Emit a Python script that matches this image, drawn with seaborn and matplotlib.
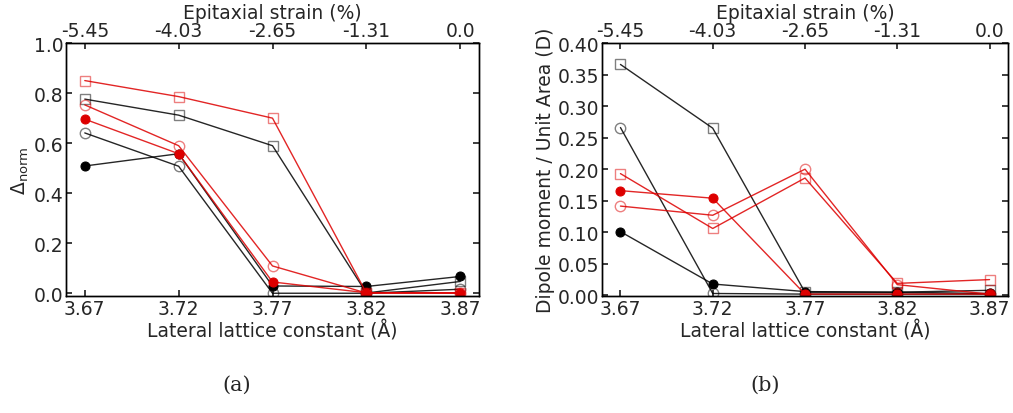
import numpy as np
import pandas as pd
import matplotlib
matplotlib.use("Agg")
import matplotlib.pyplot as plt
import seaborn as sns

lattice = [3.67, 3.72, 3.77, 3.82, 3.87]
strain_labels = ["-5.45", "-4.03", "-2.65", "-1.31", "0.0"]

# panel (a): Delta_norm
a_black_fill = [0.509, 0.558, 0.030, 0.028, 0.068]
a_black_sq = [0.776, 0.712, 0.590, 0.002, 0.048]
a_black_circ = [0.641, 0.508, 0.001, 0.001, 0.017]
a_red_sq = [0.850, 0.786, 0.700, 0.002, 0.001]
a_red_circ = [0.753, 0.590, 0.110, 0.002, 0.002]
a_red_fill = [0.696, 0.558, 0.046, 0.003, 0.003]

# panel (b): dipole moment per unit area
b_black_sq = [0.366, 0.265, 0.005, 0.005, 0.008]
b_black_circ = [0.266, 0.003, 0.002, 0.002, 0.002]
b_black_fill = [0.101, 0.018, 0.006, 0.005, 0.003]
b_red_sq = [0.193, 0.106, 0.186, 0.019, 0.025]
b_red_circ = [0.1415, 0.127, 0.200, 0.017, 0.002]
b_red_fill = [0.166, 0.154, 0.002, 0.002, 0.002]

RED = "#dd0000"

sns.set_theme(style="ticks", rc={
    "xtick.direction": "in", "ytick.direction": "in",
    "xtick.major.size": 4, "ytick.major.size": 4,
    "axes.linewidth": 1.0, "axes.edgecolor": "black",
})
plt.rcParams["font.family"] = ["DejaVu Sans"]
FS = 13.5

fig = plt.figure(figsize=(10.13, 4.14), dpi=100)
W, H = 1013, 414
ax1 = fig.add_axes([66 / W, (H - 297) / H, (479 - 66) / W, (297 - 44) / H])
ax2 = fig.add_axes([602 / W, (H - 297) / H, (1008 - 602) / W, (297 - 44) / H])


def draw(ax, y, color, kind):
    df = pd.DataFrame({"x": lattice, "y": y})
    line_c = matplotlib.colors.to_rgba(color, 0.85)
    if kind == "fill":
        sns.lineplot(data=df, x="x", y="y", ax=ax, color=line_c, lw=1.0,
                     marker="o", markersize=6.5, markerfacecolor=color,
                     markeredgecolor=color)
    else:
        m = "s" if kind == "sq" else "o"
        sns.lineplot(data=df, x="x", y="y", ax=ax, color=line_c, lw=1.0,
                     marker=m, markersize=7.5,
                     markerfacecolor="none",
                     markeredgecolor=matplotlib.colors.to_rgba(color, 0.5),
                     markeredgewidth=1.0)


for y, c, k in [(a_black_circ, "black", "circ"), (a_black_sq, "black", "sq"),
                (a_black_fill, "black", "fill"), (a_red_sq, RED, "sq"),
                (a_red_circ, RED, "circ"), (a_red_fill, RED, "fill")]:
    draw(ax1, y, c, k)

for y, c, k in [(b_black_circ, "black", "circ"), (b_black_sq, "black", "sq"),
                (b_black_fill, "black", "fill"), (b_red_sq, RED, "sq"),
                (b_red_circ, RED, "circ"), (b_red_fill, RED, "fill")]:
    draw(ax2, y, c, k)

for ax, ylim, yt, fmt, ylab in [
        (ax1, (-0.01, 1.0), np.arange(0, 1.01, 0.2), "{:.1f}", r"$\Delta_{\rm norm}$"),
        (ax2, (-0.001, 0.40), np.arange(0, 0.401, 0.05), "{:.2f}", "Dipole moment / Unit Area (D)")]:
    ax.set_xlim(3.66, 3.88)
    ax.set_ylim(*ylim)
    ax.set_xticks(lattice)
    ax.set_xticklabels([f"{v:.2f}" for v in lattice], fontsize=FS)
    ax.set_yticks(yt)
    ax.set_yticklabels([fmt.format(v) for v in yt], fontsize=FS)
    ax.tick_params(top=True, right=True, pad=2)
    ax.set_xlabel("Lateral lattice constant (Å)", fontsize=FS, labelpad=1)
    ax.set_ylabel(ylab, fontsize=FS, labelpad=2)
    top = ax.twiny()
    top.set_xlim(ax.get_xlim())
    top.set_xticks(lattice)
    top.set_xticklabels(strain_labels, fontsize=FS)
    top.tick_params(direction="in", pad=2)
    top.set_xlabel("Epitaxial strain (%)", fontsize=FS, labelpad=2)

fig.text(237 / W, 1 - 385 / H, "(a)", ha="center", va="center",
         fontsize=15, family=["DejaVu Serif"])
fig.text(765 / W, 1 - 385 / H, "(b)", ha="center", va="center",
         fontsize=15, family=["DejaVu Serif"])

fig.savefig("out.png", dpi=100)
